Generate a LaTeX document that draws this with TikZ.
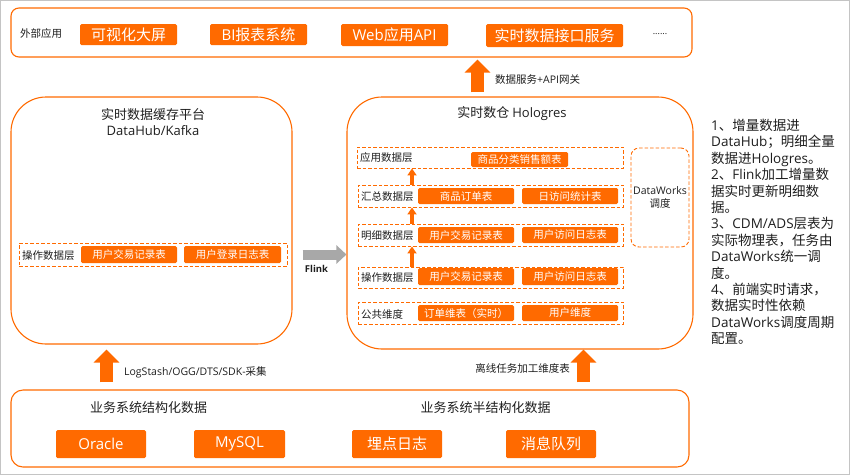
\documentclass[tikz,border=0pt]{standalone}
\usepackage{fontspec}
\setmainfont{Noto Sans CJK SC}
\newfontfamily\latn{Open Sans}
\usetikzlibrary{arrows.meta}
\definecolor{org}{HTML}{FF6A00}
\definecolor{txt}{HTML}{1E1E1E}
\definecolor{frame}{HTML}{C4C4C4}
\definecolor{garr}{HTML}{A8A8A8}
\newcommand{\La}[1]{{\latn #1}}
\tikzset{
  every node/.style={inner sep=0pt, text=txt},
  fs/.style={font=\fontsize{#1}{#1}\selectfont},
  panel/.style={draw=org, line width=1.1pt, rounded corners=#1, minimum width=10pt},
  dbox/.style={draw=org, line width=0.9pt, dash pattern=on 3.5pt off 2pt},
  obox/.style={fill=org, text=white, rounded corners=1.5pt},
  bigarr/.style={draw=org, line width=13pt, -{Triangle[width=25pt,length=13pt]}},
  smallarr/.style={draw=org, line width=3.5pt, -{Triangle[width=9pt,length=7pt]}},
  grayarr/.style={draw=garr, line width=10pt, -{Triangle[width=18pt,length=10pt]}},
}
\begin{document}
\begin{tikzpicture}[x=1pt,y=-1pt]
\useasboundingbox (0,0) rectangle (850,475);
\draw[frame, line width=1pt] (0.5,0.5) rectangle (849.5,474.5);

% ---------- top panel ----------
\node[panel=8pt, minimum width=681pt, minimum height=49pt] (top) at (351.5,32.5) {};
\node[fs=10.5, anchor=west] (ext) at (20,33) {外部应用};
\node[obox, fs=15, minimum width=97pt, minimum height=21pt] (t1) at (128.5,34.5) {可视化大屏};
\node[obox, fs=15, minimum width=97pt, minimum height=21pt] (t2) at (258.5,34.5) {\La{BI}报表系统};
\node[obox, fs=15, minimum width=107pt, minimum height=22pt] (t3) at (394.5,35) {\La{Web}应用\La{API}};
\node[obox, fs=15, minimum width=137pt, minimum height=23pt] (t4) at (554.5,35.5) {实时数据接口服务};
\node[fs=9] (dots) at (660,34) {\La{......}};

% ---------- left panel ----------
\node[panel=35pt, minimum width=281pt, minimum height=247pt] (buf) at (151.5,220.5) {};
\node[align=center, font=\fontsize{13}{16}\selectfont] (buft) at (153,122) {实时数据缓存平台\\\La{DataHub/Kafka}};
\node[dbox, minimum width=268pt, minimum height=23pt] (bufods) at (153,254.5) {};
\node[fs=10.5, anchor=west] (bufodsl) at (22,255.5) {操作数据层};
\node[obox, fs=10.5, minimum width=96pt, minimum height=17pt] (b1) at (129,254.5) {用户交易记录表};
\node[obox, fs=10.5, minimum width=97pt, minimum height=17pt] (b2) at (232.5,254.5) {用户登录日志表};

% ---------- Hologres panel ----------
\node[panel=35pt, minimum width=346pt, minimum height=252pt] (hol) at (520,223) {};
\node[fs=13] (holt) at (512,114) {实时数仓 \La{Hologres}};

\node[dbox, minimum width=266pt, minimum height=21pt] (L1) at (490,157.5) {};
\node[dbox, minimum width=265pt, minimum height=22pt] (L2) at (490.5,196) {};
\node[dbox, minimum width=265pt, minimum height=22pt] (L3) at (490.5,235) {};
\node[dbox, minimum width=265pt, minimum height=21pt] (L4) at (490.5,277.5) {};
\node[dbox, minimum width=265pt, minimum height=22pt] (L5) at (490.5,313) {};

\node[fs=10.5, anchor=west] (l1t) at (360,158) {应用数据层};
\node[fs=10.5, anchor=west] (l2t) at (361,197) {汇总数据层};
\node[fs=10.5, anchor=west] (l3t) at (361,236) {明细数据层};
\node[fs=10.5, anchor=west] (l4t) at (361,278) {操作数据层};
\node[fs=10.5, anchor=west] (l5t) at (361,314) {公共维度};

\node[obox, fs=10.5, minimum width=97pt, minimum height=15pt] (h1) at (519.5,159.5) {商品分类销售额表};
\node[obox, fs=10.5, minimum width=96pt, minimum height=16pt] (h21) at (466,196) {商品订单表};
\node[obox, fs=10.5, minimum width=96pt, minimum height=16pt] (h22) at (570,196) {日访问统计表};
\node[obox, fs=10.5, minimum width=96pt, minimum height=16pt] (h31) at (466,235) {用户交易记录表};
\node[obox, fs=10.5, minimum width=96pt, minimum height=16pt] (h32) at (570,235) {用户访问日志表};
\node[obox, fs=10.5, minimum width=96pt, minimum height=17pt] (h41) at (466,276.5) {用户交易记录表};
\node[obox, fs=10.5, minimum width=96pt, minimum height=17pt] (h42) at (570,276.5) {用户访问日志表};
\node[obox, fs=10.5, minimum width=96pt, minimum height=16pt] (h51) at (466,313) {订单维表（实时）};
\node[obox, fs=10.5, minimum width=96pt, minimum height=16pt] (h52) at (570,313) {用户维度};

\coordinate (ax) at (412,0);
\draw[smallarr] (L2.north -| ax) -- (L1.south -| ax);
\draw[smallarr] (L3.north -| ax) -- (L2.south -| ax);
\draw[smallarr] (L4.north -| ax) -- (L3.south -| ax);

\node[draw=org, line width=0.9pt, dash pattern=on 3.5pt off 2pt, rounded corners=8pt,
      minimum width=58pt, minimum height=99pt] (dw) at (660,197.5) {};
\node[align=center, font=\fontsize{10.5}{12.5}\selectfont] (dwt) at (dw.center) {\La{DataWorks}\\调度};

% ---------- Flink arrow ----------
\draw[grayarr] (buf.east |- bufods.center) ++(10pt,0) coordinate (fa) -- (hol.west |- bufods.center) coordinate (fb);
\node[font=\fontsize{9.5}{11}\latn\bfseries] (flink) at (316.5,269) {Flink};

% ---------- bottom panel ----------
\node[panel=12pt, minimum width=678pt, minimum height=77pt] (src) at (350,428.5) {};
\node[fs=13] (s1t) at (148.5,408) {业务系统结构化数据};
\node[fs=13] (s2t) at (485.5,408) {业务系统半结构化数据};
\node[obox, fs=15, minimum width=90pt, minimum height=28pt] (o1) at (101,444) {\La{Oracle}};
\node[obox, fs=15, minimum width=91pt, minimum height=28pt] (o2) at (239.5,444) {\La{MySQL}};
\node[obox, fs=15, minimum width=90pt, minimum height=28pt] (o3) at (397,444) {埋点日志};
\node[obox, fs=15, minimum width=90pt, minimum height=28pt] (o4) at (551,444) {消息队列};

% ---------- big arrows ----------
\coordinate (xa) at (106.5,0);
\coordinate (xb) at (583.5,0);
\coordinate (xc) at (477.5,0);
\draw[bigarr] ([yshift=7pt]src.north -| xa) -- ([yshift=-5pt]buf.south -| xa);
\node[fs=10.5, anchor=west] (lsl) at (124,372) {\La{LogStash/OGG/DTS/SDK-}采集};
\draw[bigarr] ([yshift=7pt]src.north -| xb) -- (hol.south -| xb);
\node[fs=10.5, anchor=east] (offl) at (570,368) {离线任务加工维度表};
\draw[bigarr] ([yshift=4pt]hol.north -| xc) -- ([yshift=-2pt]top.south -| xc);
\node[fs=10.5, anchor=west] (dsl) at (495,80) {数据服务\La{+API}网关};

% ---------- notes ----------
\node[anchor=north west, align=left, font=\fontsize{13.5}{16.4}\selectfont] (notes) at (711,119) {%
\La{1}、增量数据进\\
\La{DataHub}；明细全量\\
数据进\La{Hologres}。\\
\La{2}、\La{Flink}加工增量数\\
据实时更新明细数\\
据。\\
\La{3}、\La{CDM/ADS}层表为\\
实际物理表，任务由\\
\La{DataWorks}统一调\\
度。\\
\La{4}、前端实时请求，\\
数据实时性依赖\\
\La{DataWorks}调度周期\\
配置。};
\end{tikzpicture}
\end{document}
